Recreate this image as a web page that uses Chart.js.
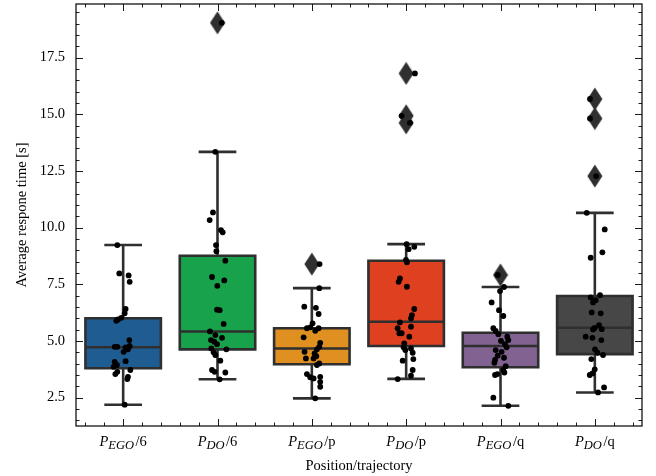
<!DOCTYPE html>
<html><head><meta charset="utf-8">
<script src="https://cdn.jsdelivr.net/npm/chart.js@4.4.1/dist/chart.umd.min.js"></script>
<style>html,body{margin:0;padding:0;background:#fff;}#wrap{width:656px;height:476px;}</style>
</head><body><div id="wrap"><canvas id="c" width="656" height="476"></canvas></div>
<script>
// ---- data ----
const categories = ['P_{EGO}/6', 'P_{DO}/6', 'P_{EGO}/p', 'P_{DO}/p', 'P_{EGO}/q', 'P_{DO}/q'];
const yTicks = [2.5, 5.0, 7.5, 10.0, 12.5, 15.0, 17.5];
const boxColors = ['#1F5C92', '#17A24B', '#DF9020', '#DF4120', '#816290', '#474747'];

// box statistics
const q1  = [3.80, 4.63, 3.97, 4.78, 3.84, 4.42];
const med = [4.72, 5.42, 4.67, 5.85, 4.78, 5.58];
const q3  = [6.00, 8.76, 5.56, 8.54, 5.36, 6.98];
const wlo = [2.19, 3.31, 2.47, 3.33, 2.14, 2.73];
const whi = [9.23, 13.34, 7.33, 9.27, 7.38, 10.65];

// outliers (fliers)
const out0 = [];
const out1 = [19.03];
const out2 = [8.39];
const out3 = [16.80, 14.93, 14.62];
const out4 = [7.91];
const out5 = [15.67, 14.81, 12.27];

const vals0 = [9.23,7.98,7.89,7.61,6.41,6.22,6.02,5.95,5.89,5.04,4.74,4.74,4.72,4.78,4.63,4.52,4.08,4.11,3.94,3.86,3.72,3.64,3.54,3.42,3.32,2.19];
const jit0  = [-0.062,-0.041,0.058,0.069,0.026,0.016,-0.020,-0.055,-0.073,0.065,-0.090,-0.062,0.026,0.069,0.051,0.005,-0.090,0.026,-0.066,-0.101,0.076,-0.062,-0.083,0.051,0.044,0.016];
const vals1 = [19.03,13.34,10.67,10.33,9.89,9.79,9.23,8.96,8.54,7.82,7.67,7.43,6.38,6.36,5.75,5.42,5.26,5.04,5.14,4.97,4.86,4.67,4.63,4.50,4.38,4.13,3.72,3.64,3.61,3.31];
const jit1  = [0.045,-0.023,-0.048,-0.083,0.037,0.055,-0.016,-0.012,0.083,-0.058,0.072,-0.002,-0.005,0.023,0.065,-0.080,-0.023,-0.069,0.048,-0.034,-0.005,-0.065,0.094,-0.041,-0.023,0.030,-0.058,-0.030,0.083,0.023];
const vals2 = [8.39,7.33,6.51,6.46,6.19,5.78,5.56,5.60,5.56,5.45,5.16,4.92,4.74,4.63,4.52,4.45,4.33,4.23,4.23,4.01,3.94,3.54,3.40,3.35,3.42,3.20,2.98,2.47];
const jit2  = [0.082,0.079,-0.080,0.043,0.072,0.008,-0.052,-0.017,0.072,0.036,-0.087,0.089,0.079,0.054,-0.077,0.029,0.047,-0.063,0.019,0.079,0.054,-0.052,-0.017,0.019,0.089,0.089,0.089,0.036];
const vals3 = [16.80,14.93,14.62,9.27,9.15,9.05,8.57,8.47,7.76,7.61,7.39,6.41,6.14,6.00,5.82,5.63,5.56,5.34,5.34,5.19,4.89,4.72,4.67,4.60,4.48,4.20,4.13,3.72,3.47,3.32];
const jit3  = [0.093,-0.048,0.040,0.005,0.086,0.026,-0.002,0.008,-0.066,-0.080,0.008,0.086,0.061,0.051,-0.066,0.051,-0.090,-0.073,-0.048,0.033,-0.020,-0.027,0.051,-0.009,0.069,0.076,-0.037,0.069,0.051,-0.090];
const vals4 = [7.91,7.38,7.20,6.70,6.36,6.10,5.56,5.44,5.30,5.19,5.04,5.00,4.86,4.72,4.60,4.52,4.35,4.26,4.16,4.04,3.89,3.72,3.61,3.50,3.54,2.50,2.14];
const jit4  = [-0.030,0.037,-0.005,-0.094,-0.016,0.030,-0.076,-0.051,-0.023,0.072,0.083,0.005,0.048,0.065,-0.051,0.012,-0.030,0.037,-0.058,-0.065,0.055,0.030,0.041,-0.058,-0.034,-0.076,0.083];
const vals5 = [15.67,14.81,12.27,10.65,9.92,8.91,8.67,7.02,6.92,6.80,6.70,6.26,6.22,5.70,5.58,5.52,5.51,5.19,5.14,5.04,4.63,4.48,4.38,4.20,3.75,3.57,3.50,2.95,2.73];
const jit5  = [-0.051,-0.051,0.013,-0.086,0.105,0.080,-0.044,0.055,-0.044,0.009,-0.019,-0.033,0.062,0.045,-0.001,0.073,-0.019,-0.097,-0.026,0.069,0.002,0.027,0.087,-0.037,-0.001,-0.026,-0.054,0.098,0.034];

// ---- build library datasets from the arrays ----
const allVals = [vals0, vals1, vals2, vals3, vals4, vals5];
const allJit  = [jit0, jit1, jit2, jit3, jit4, jit5];
const allOut  = [out0, out1, out2, out3, out4, out5];
const BOXW = 0.8, CAPW = 0.4;
const LINE = '#2f2f2f';
const FONT = "'Liberation Serif', 'Times New Roman', serif";
Chart.defaults.font.family = FONT;
Chart.defaults.color = '#000';

const stripPts = [];
allVals.forEach((vs, g) => vs.forEach((v, k) => stripPts.push({ x: g + allJit[g][k], y: v })));
const fliers = [];
allOut.forEach((os, g) => os.forEach(v => fliers.push({ x: g, y: v })));

const boxLines = [];
categories.forEach((c, i) => {
  const L = i - BOXW / 2, R = i + BOXW / 2, cl = i - CAPW / 2, cr = i + CAPW / 2;
  const gap = () => boxLines.push({ x: i, y: null });
  boxLines.push({x:L,y:q1[i]},{x:R,y:q1[i]},{x:R,y:q3[i]},{x:L,y:q3[i]},{x:L,y:q1[i]},{x:R,y:q1[i]}); gap();
  boxLines.push({x:L,y:med[i]},{x:R,y:med[i]}); gap();
  boxLines.push({x:i,y:q1[i]},{x:i,y:wlo[i]}); gap();
  boxLines.push({x:i,y:q3[i]},{x:i,y:whi[i]}); gap();
  boxLines.push({x:cl,y:wlo[i]},{x:cr,y:wlo[i]}); gap();
  boxLines.push({x:cl,y:whi[i]},{x:cr,y:whi[i]}); gap();
});

// thin diamond marker
const dia = document.createElement('canvas');
dia.width = 16; dia.height = 24;
(function(){ const d = dia.getContext('2d'); d.fillStyle = LINE; d.beginPath();
  d.moveTo(8, 0.5); d.lineTo(15.5, 12); d.lineTo(8, 23.5); d.lineTo(0.5, 12); d.closePath(); d.fill(); })();

const decor = {
  id: 'decor',
  afterDraw(chart) {
    const ctx = chart.ctx, a = chart.chartArea, xs = chart.scales.x, ys = chart.scales.y;
    ctx.save();
    ctx.strokeStyle = '#000';
    ctx.lineWidth = 0.9;
    ctx.beginPath();
    const MAJ = 7, MIN = 3.5;
    for (let v = Math.ceil(ys.min * 2) / 2; v <= ys.max + 1e-9; v += 0.5) {
      const y = Math.round(ys.getPixelForValue(v)) + 0.5;
      const len = yTicks.some(t => Math.abs(t - v) < 1e-6) ? MAJ : MIN;
      ctx.moveTo(a.left, y); ctx.lineTo(a.left + len, y);
      ctx.moveTo(a.right, y); ctx.lineTo(a.right - len, y);
    }
    for (let k = -2; k <= 27; k++) {
      const v = k * 0.2;
      if (v < xs.min || v > xs.max) continue;
      const x = Math.round(xs.getPixelForValue(v)) + 0.5;
      const len = (k % 5 === 0) ? MAJ : MIN;
      ctx.moveTo(x, a.bottom); ctx.lineTo(x, a.bottom - len);
      ctx.moveTo(x, a.top); ctx.lineTo(x, a.top + len);
    }
    ctx.stroke();
    ctx.lineWidth = 1.2;
    ctx.strokeRect(a.left, a.top, a.right - a.left, a.bottom - a.top);
    // rich category labels (italic P with subscript)
    ctx.fillStyle = '#000';
    ctx.textBaseline = 'alphabetic';
    const fMain = "italic 14.5px " + FONT, fSub = "italic 12.5px " + FONT, fRest = "14.5px " + FONT;
    categories.forEach((lab, i) => {
      const m = lab.match(/^(.*?)_\{(.*?)\}(.*)$/);
      const base = m ? m[1] : lab, sub = m ? m[2] : '', rest = m ? m[3] : '';
      ctx.font = fMain; const w1 = ctx.measureText(base).width;
      ctx.font = fSub; const w2 = ctx.measureText(sub).width + 1.5;
      ctx.font = fRest; const w3 = ctx.measureText(rest).width;
      let x = xs.getPixelForValue(i) - (w1 + w2 + w3) / 2;
      const by = 445.5;
      ctx.font = fMain; ctx.fillText(base, x, by); x += w1;
      ctx.font = fSub; ctx.fillText(sub, x, by + 3.5); x += w2;
      ctx.font = fRest; ctx.fillText(rest, x, by);
    });
    ctx.restore();
  }
};

new Chart(document.getElementById('c'), {
  type: 'bar',
  data: {
    datasets: [
      { type: 'scatter', data: stripPts, order: 0, pointRadius: 2.9, pointHoverRadius: 2.9,
        backgroundColor: '#000', borderWidth: 0 },
      { type: 'scatter', data: fliers, order: 1, pointStyle: dia, pointRadius: 8, borderWidth: 0 },
      { type: 'line', data: boxLines, order: 2, borderColor: LINE, borderWidth: 2.6, pointRadius: 0,
        spanGaps: false, fill: false, tension: 0, borderJoinStyle: 'miter', borderCapStyle: 'butt' },
      { type: 'bar', data: categories.map((c, i) => ({ x: i, y: [q1[i], q3[i]] })), order: 3,
        backgroundColor: boxColors, borderWidth: 0, categoryPercentage: BOXW, barPercentage: 1.0 }
    ]
  },
  options: {
    responsive: false, animation: false, devicePixelRatio: 1,
    layout: { autoPadding: false, padding: { left: 0, top: 4, right: 14, bottom: 0 } },
    plugins: { legend: { display: false }, tooltip: { enabled: false } },
    scales: {
      x: {
        type: 'linear', min: -0.5, max: 5.5, offset: false,
        afterBuildTicks: s => { s.ticks = categories.map((c, i) => ({ value: i })); },
        ticks: { callback: () => '', font: { size: 14.5 } },
        grid: { display: false, drawTicks: false }, border: { display: false },
        title: { display: true, text: 'Position/trajectory', color: '#000', font: { size: 14.5 }, padding: { top: 0, bottom: 1.5 } },
        afterFit: s => { s.height = 50; s.paddingLeft = 0; s.paddingRight = 0; }
      },
      y: {
        type: 'linear', min: 1.25, max: 19.86,
        afterBuildTicks: s => { s.ticks = yTicks.map(v => ({ value: v })); },
        ticks: { callback: v => Number(v).toFixed(1), color: '#000', font: { size: 14.5 }, padding: 11 },
        grid: { display: false, drawTicks: false }, border: { display: false },
        title: { display: true, text: 'Average respone time [s]', color: '#000', font: { size: 14.5 }, padding: { top: 13, bottom: 0 } },
        afterFit: s => { s.width = 76; s.paddingTop = 0; s.paddingBottom = 0; }
      }
    }
  },
  plugins: [decor]
});
</script>
</body></html>
